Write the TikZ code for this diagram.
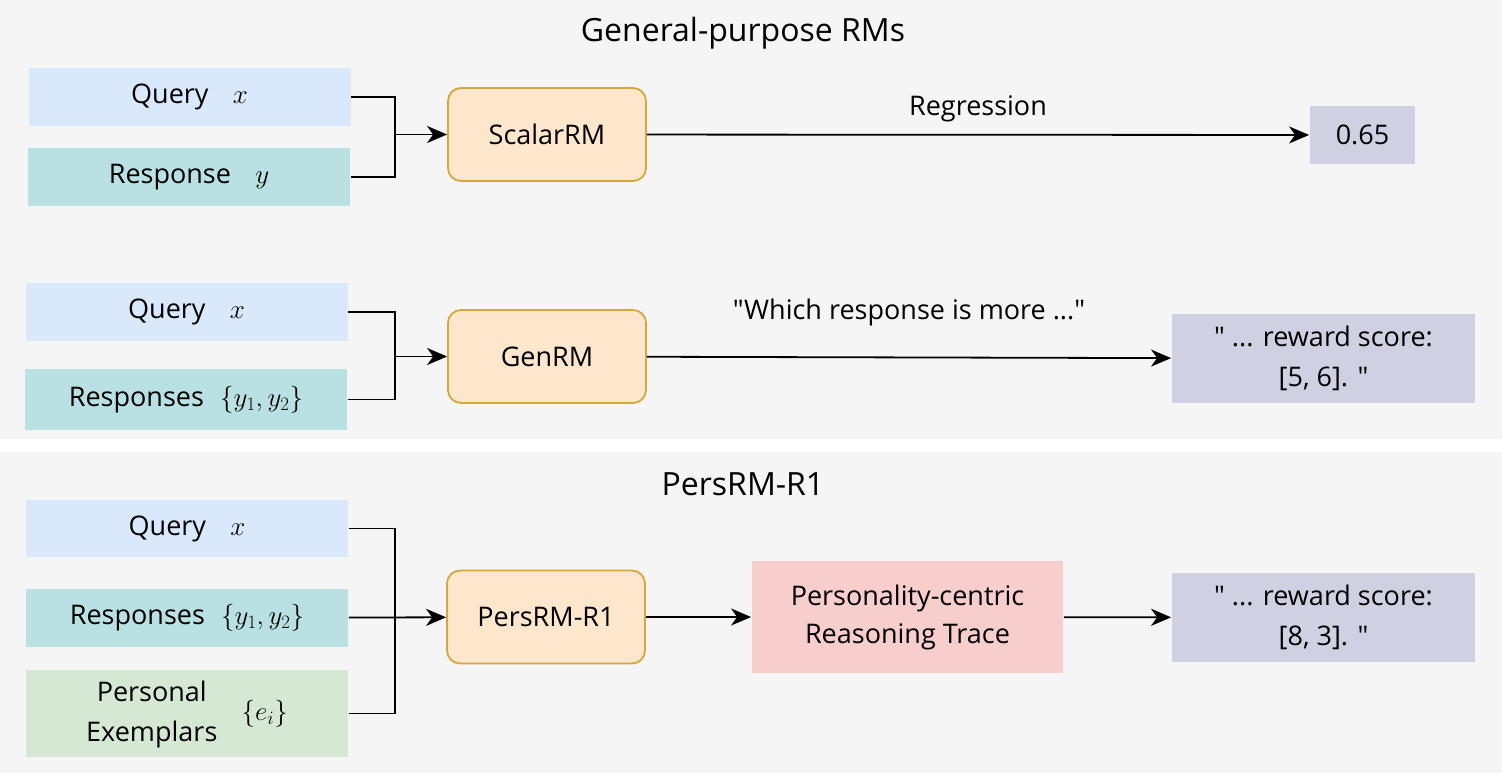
\RequirePackage{fix-cm}
\documentclass[tikz,border=0pt]{standalone}
\usepackage{fontspec}
\setmainfont{Open Sans}[Ligatures=TeXOff]
\usetikzlibrary{arrows.meta,positioning}

\definecolor{panelgray}{HTML}{F5F5F5}
\definecolor{queryblue}{HTML}{DAE8FC}
\definecolor{respteal}{HTML}{B9E1E3}
\definecolor{exgreen}{HTML}{D5E8D4}
\definecolor{rmfill}{HTML}{FCE6CC}
\definecolor{rmdraw}{HTML}{D6A83C}
\definecolor{outpurple}{HTML}{D1CFE2}
\definecolor{tracered}{HTML}{F8CECC}

\begin{document}
\begin{tikzpicture}[x=1pt,y=-1pt,line width=1.8pt,
    >={Stealth[length=20pt,width=17pt,inset=6pt]}]
       \tikzstyle{inbox}=[minimum width=322pt, minimum height=58pt, inner sep=0pt,
                          font=\fontsize{27}{40}\selectfont]
       \tikzstyle{rmbox}=[draw=rmdraw, fill=rmfill, rounded corners=13pt, line width=1.8pt,
                          minimum width=198pt, minimum height=93pt,
                          font=\fontsize{27}{32}\selectfont]
       \tikzstyle{outbox}=[fill=outpurple, minimum width=303pt, minimum height=89pt,
                           inner sep=0pt, align=center, font=\fontsize{27}{40}\selectfont]
       \tikzstyle{title}=[font=\fontsize{32}{38}\selectfont]
       \tikzstyle{lbl}=[font=\fontsize{27}{32}\selectfont]

       % panels
       \fill[white] (0,0) rectangle (1502,782);
       \fill[panelgray] (0,0) rectangle (1502,439);
       \fill[panelgray] (0,452) rectangle (1502,773);

       % general-purpose RMs
       \node[title] (t_gen) at (743,33) {General-purpose RMs};

       \node[inbox, fill=queryblue] (q_1) at (189.5,97)  {Query\hspace{0.9em}$x$};
       \node[inbox, fill=respteal]  (r_1) at (189,177)   {Response\hspace{0.9em}$y$};
       \node[rmbox]                 (scalar) at (547,134.5) {ScalarRM};
       \node[fill=outpurple, minimum width=105pt, minimum height=58pt,
             font=\fontsize{27}{32}\selectfont] (val) at (1362.5,135) {0.65};
       \coordinate (j_1) at (395,134.5);

       \node[inbox, fill=queryblue] (q_2) at (186.5,312)  {Query\hspace{0.9em}$x$};
       \node[inbox, fill=respteal, minimum height=61pt] (r_2) at (186,399.5)
             {Responses\hspace{0.6em}$\{y_1,y_2\}$};
       \node[rmbox]                 (gen) at (547,356.5) {GenRM};
       \node[outbox]                (out_1) at (1323.5,358.5)
             {" ... reward score:\\\relax[5, 6]. "};
       \coordinate (j_2) at (395,356.5);

       \draw (q_1.east) -| (j_1);
       \draw (r_1.east) -| (j_1);
       \draw[->] (j_1) -- (scalar);
       \draw[->] (scalar) -- node[lbl, above=9pt] {Regression} (val);

       \draw (q_2.east) -| (j_2);
       \draw (r_2.east) -| (j_2);
       \draw[->] (j_2) -- (gen);
       \draw[->] (gen) -- node[lbl, above=27pt] {"Which response is more ..."} (out_1);

       % PersRM-R1
       \node[title] (t_pers) at (743,484) {PersRM-R1};

       \node[inbox, fill=queryblue, minimum height=57pt] (q_3) at (187,528.5) {Query\hspace{0.9em}$x$};
       \node[inbox, fill=respteal]  (r_3) at (187,618)
             {Responses\hspace{0.6em}$\{y_1,y_2\}$};
       \node[inbox, fill=exgreen, minimum height=87pt] (ex) at (187,713.5)
             {\begin{tabular}{@{}c@{}}Personal\\Exemplars\end{tabular}\hspace{0.9em}$\{e_i\}$};
       \node[rmbox]                 (pers) at (546,617) {PersRM-R1};
       \node[fill=tracered, minimum width=311pt, minimum height=112pt, align=center,
             font=\fontsize{27}{38}\selectfont] (trace) at (907.5,617)
             {Personality-centric\\Reasoning Trace};
       \node[outbox]                (out_2) at (1323.5,617.5)
             {" ... reward score:\\\relax[8, 3]. "};
       \coordinate (j_3) at (395,617);

       \draw (q_3.east) -| (j_3);
       \draw (ex.east) -| (j_3);
       \draw[->] (r_3) -- (pers);
       \draw[->] (pers) -- (trace);
       \draw[->] (trace) -- (out_2);
\end{tikzpicture}
\end{document}
